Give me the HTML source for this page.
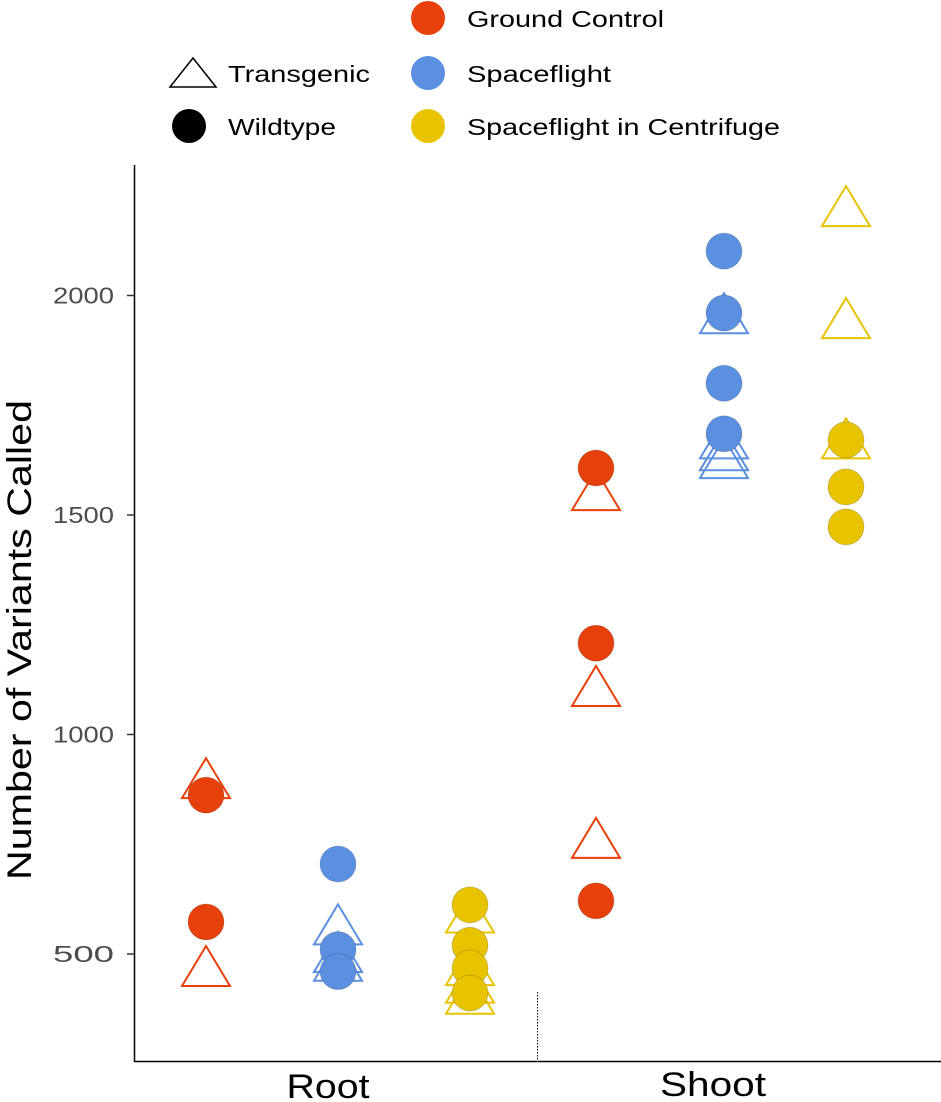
<!DOCTYPE html>
<html><head><meta charset="utf-8"><style>
body{margin:0;background:#fff}
svg{display:block;font-family:"Liberation Sans",Arial,sans-serif}
</style></head><body>
<svg id="chart" width="941" height="1102" viewBox="0 0 941 1102">
<g id="legend">
 <g><polygon points="193,58 216,87 170,87" fill="none" stroke="#000" stroke-width="1.5"/><text x="228" y="82" font-size="23" textLength="142" lengthAdjust="spacingAndGlyphs">Transgenic</text></g>
 <g><circle cx="189" cy="126" r="17" fill="#000"/><text x="228" y="135" font-size="23" textLength="108" lengthAdjust="spacingAndGlyphs">Wildtype</text></g>
 <g><circle cx="428" cy="18" r="17" fill="#E8400A"/><text x="467" y="27" font-size="23" textLength="197" lengthAdjust="spacingAndGlyphs">Ground Control</text></g>
 <g><circle cx="428" cy="73" r="17" fill="#5B8FE0"/><text x="467" y="82" font-size="23" textLength="144" lengthAdjust="spacingAndGlyphs">Spaceflight</text></g>
 <g><circle cx="428" cy="126" r="17" fill="#E8C300"/><text x="467" y="135" font-size="23" textLength="313" lengthAdjust="spacingAndGlyphs">Spaceflight in Centrifuge</text></g>
</g>
<line x1="134.5" y1="165" x2="134.5" y2="1062" stroke="#000" stroke-width="1.5"/>
<line x1="134" y1="1061.5" x2="941" y2="1061.5" stroke="#000" stroke-width="1.5"/>
<line x1="537.5" y1="992" x2="537.5" y2="1061" stroke="#000" stroke-width="1" stroke-dasharray="1.5,1.5"/>
<text transform="translate(31,640) rotate(-90)" text-anchor="middle" font-size="34" textLength="480" lengthAdjust="spacingAndGlyphs">Number of Variants Called</text>
<text x="328" y="1098" text-anchor="middle" font-size="34" textLength="83" lengthAdjust="spacingAndGlyphs">Root</text>
<text x="713" y="1096" text-anchor="middle" font-size="34" textLength="106" lengthAdjust="spacingAndGlyphs">Shoot</text>
<g id="ticks"></g>
<g id="marks"></g>
</svg>
<script>
const yTicks = [500, 1000, 1500, 2000];
const groups = ["Root-GC","Root-SF","Root-SFC","Shoot-GC","Shoot-SF","Shoot-SFC"];
const groupColors = ["#E8400A","#5B8FE0","#E8C300","#E8400A","#5B8FE0","#E8C300"];
const transgenicValues = [
 [896, 468],
 [563, 500, 480],
 [590, 470, 430, 405],
 [1552, 1106, 760],
 [1955, 1670, 1643, 1625],
 [2199, 1944, 1670]
];
const wildtypeValues = [
 [862, 573],
 [705, 510, 460],
 [612, 520, 468, 411],
 [1607, 1208, 621],
 [2101, 1960, 1800, 1685],
 [1671, 1564, 1473]
];
const NS="http://www.w3.org/2000/svg";
function yScale(v){return 954-(v-500)*0.439;}
function xScale(i){return [206,338,470,596,724,846][i];}
const tg=document.getElementById('ticks');
yTicks.forEach(t=>{
 const y=yScale(t);
 const l=document.createElementNS(NS,'line');
 l.setAttribute('x1',127);l.setAttribute('x2',134);l.setAttribute('y1',y);l.setAttribute('y2',y);
 l.setAttribute('stroke','#333');l.setAttribute('stroke-width','1.5');
 
 
 tg.appendChild(l);
 const tx=document.createElementNS(NS,'text');
 tx.setAttribute('x',114);tx.setAttribute('y',y+8);tx.setAttribute('text-anchor','end');
 tx.setAttribute('font-size','23');tx.setAttribute('fill','#4d4d4d');
 tx.setAttribute('textLength','61');tx.setAttribute('lengthAdjust','spacingAndGlyphs');
 tx.textContent=t;
 
 
 tg.appendChild(tx);
});
const mg=document.getElementById('marks');
groups.forEach((g,i)=>{
 const x=xScale(i),c=groupColors[i];
 transgenicValues[i].forEach(v=>{
  const y=yScale(v);
  const p=document.createElementNS(NS,'polygon');
  p.setAttribute('points',`${x},${y-22} ${x+24},${y+18} ${x-24},${y+18}`);
  p.setAttribute('fill','none');p.setAttribute('stroke',c);p.setAttribute('stroke-width','2');
  
  
  mg.appendChild(p);
 });
 wildtypeValues[i].forEach(v=>{
  const ci=document.createElementNS(NS,'circle');
  ci.setAttribute('cx',x);ci.setAttribute('cy',yScale(v));ci.setAttribute('r',18);
  ci.setAttribute('fill',c);ci.setAttribute('stroke','rgba(0,0,0,0.15)');ci.setAttribute('stroke-width','1');
  
  
  mg.appendChild(ci);
 });
});
</script>
</body></html>
